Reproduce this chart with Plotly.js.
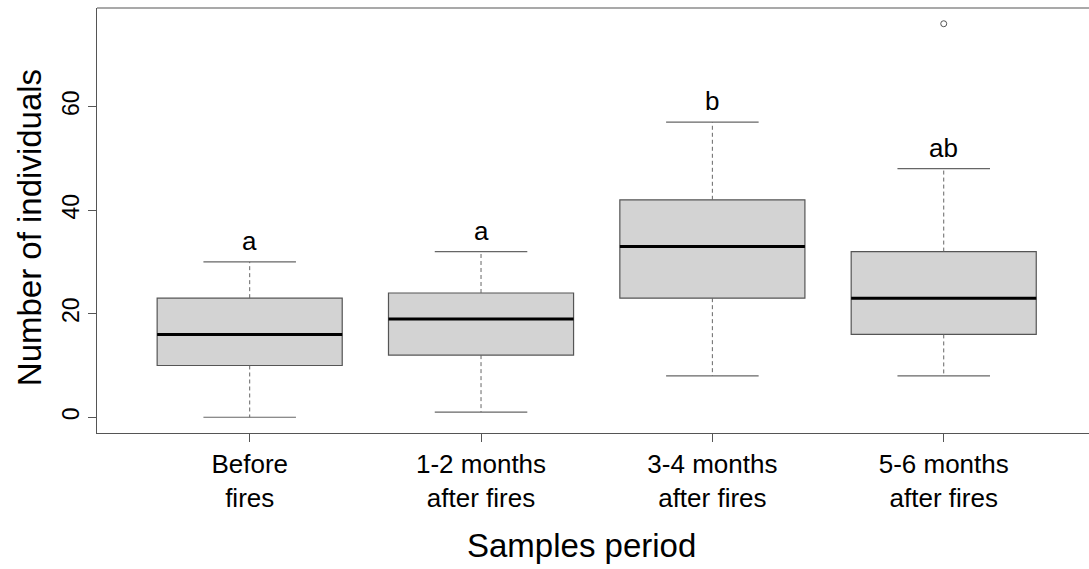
<!DOCTYPE html>
<html>
<head>
<meta charset="utf-8">
<script src="https://cdn.plot.ly/plotly-3.0.1.min.js"></script>
<style>
html, body { margin: 0; padding: 0; background: #fff; }
#chart { width: 1089px; height: 569px; }
</style>
</head>
<body>
<div id="chart"></div>
<script>
// ---- Data ----
const categories = ['Before<br>fires', '1-2 months<br>after fires', '3-4 months<br>after fires', '5-6 months<br>after fires'];
const positions = [1, 2, 3, 4];
const lowerWhisker = [0, 1, 8, 8];
const q1 = [10, 12, 23, 16];
const medians = [16, 19, 33, 23];
const q3 = [23, 24, 42, 32];
const upperWhisker = [30, 32, 57, 48];
const outlierX = [4];
const outlierY = [76];
const letters = ['a', 'a', 'b', 'ab'];
const yTicks = [0, 20, 40, 60];

// ---- Styling ----
const FONT = 'Liberation Sans, Arial, Helvetica, sans-serif';
const BOXW = 0.8;   // box width in category units (R boxwex)
const CAPW = 0.4;   // staple width

// whiskers (dashed)
const wx = [], wy = [];
positions.forEach((p, i) => {
  wx.push(p, p, null, p, p, null);
  wy.push(q3[i], upperWhisker[i], null, q1[i], lowerWhisker[i], null);
});
// staples
const cx = [], cy = [];
positions.forEach((p, i) => {
  cx.push(p - CAPW / 2, p + CAPW / 2, null, p - CAPW / 2, p + CAPW / 2, null);
  cy.push(upperWhisker[i], upperWhisker[i], null, lowerWhisker[i], lowerWhisker[i], null);
});
// medians
const mx = [], my = [];
positions.forEach((p, i) => {
  mx.push(p - BOXW / 2, p + BOXW / 2, null);
  my.push(medians[i], medians[i], null);
});

const traces = [
  {
    type: 'scatter', mode: 'lines', x: wx, y: wy, hoverinfo: 'skip',
    line: { color: '#666', width: 1, dash: '4px,3px' }, showlegend: false
  },
  {
    type: 'scatter', mode: 'lines', x: cx, y: cy, hoverinfo: 'skip',
    line: { color: '#666', width: 1.2 }, showlegend: false
  },
  {
    type: 'box', x: positions, q1: q1, median: medians, q3: q3,
    lowerfence: q1, upperfence: q3, width: BOXW, whiskerwidth: 0,
    fillcolor: '#D3D3D3', line: { color: '#555', width: 1.2 },
    boxpoints: false, showlegend: false
  },
  {
    type: 'scatter', mode: 'lines', x: mx, y: my, hoverinfo: 'skip',
    line: { color: '#000', width: 3 }, showlegend: false
  },
  {
    type: 'scatter', mode: 'markers', x: outlierX, y: outlierY,
    marker: { symbol: 'circle-open', size: 6, color: '#555', line: { width: 1 } },
    showlegend: false
  }
];

const annotations = positions.map((p, i) => ({
  x: p, y: upperWhisker[i] + 4, xref: 'x', yref: 'y',
  text: letters[i], showarrow: false, xanchor: 'center', yanchor: 'middle',
  font: { family: FONT, size: 26, color: '#000' }
}));
annotations.push({
  text: 'Samples period', xref: 'paper', yref: 'paper', x: 0.488, y: -0.265,
  xanchor: 'center', yanchor: 'middle', showarrow: false,
  font: { family: FONT, size: 33, color: '#000' }
});
annotations.push({
  text: 'Number of individuals', xref: 'paper', yref: 'paper', x: -0.0685, y: 0.482,
  xanchor: 'center', yanchor: 'middle', showarrow: false, textangle: -90,
  font: { family: FONT, size: 33, color: '#000' }
});

const layout = {
  width: 1089, height: 569,
  margin: { l: 97, r: 0, t: 8, b: 136.3, pad: 0 },
  paper_bgcolor: '#fff', plot_bgcolor: '#fff',
  showlegend: false,
  font: { family: FONT, color: '#000' },
  xaxis: {
    range: [0.34, 4.628], tickmode: 'array', tickvals: positions, ticktext: categories,
    showgrid: false, zeroline: false, showline: true, linecolor: '#555', linewidth: 1.2,
    ticks: 'outside', ticklen: 8, tickcolor: '#555', tickwidth: 1,
    tickfont: { family: FONT, size: 26, color: '#000' }
  },
  yaxis: {
    range: [-3.04, 79.04], tickmode: 'array', tickvals: yTicks,
    showgrid: false, zeroline: false, showline: true, linecolor: '#555', linewidth: 1.2,
    ticks: 'outside', ticklen: 8, tickcolor: '#555', tickwidth: 1, tickangle: -90,
    tickfont: { family: FONT, size: 23, color: '#000' }
  },
  shapes: [{
    type: 'line', xref: 'paper', yref: 'paper', x0: 0, x1: 1, y0: 1, y1: 1,
    line: { color: '#555', width: 1.2 }
  }],
  annotations: annotations
};

Plotly.newPlot('chart', traces, layout, { staticPlot: true, displayModeBar: false });
</script>
</body>
</html>
